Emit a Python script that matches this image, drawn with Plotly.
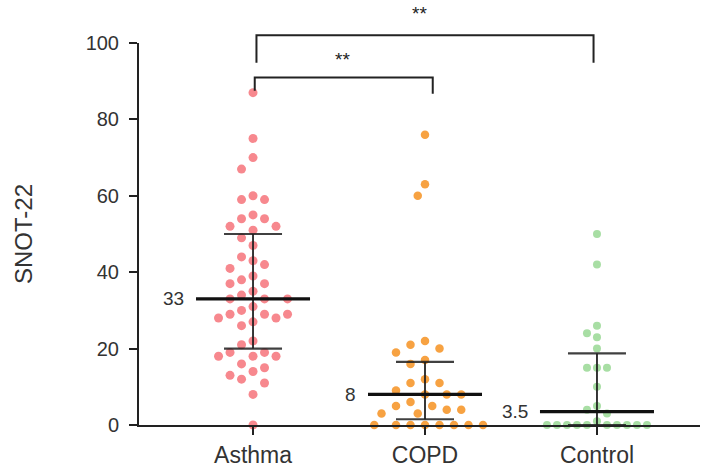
import numpy as np
import plotly.graph_objects as go

# ---------------- data ----------------
categories = ["Asthma", "COPD", "Control"]
asthma = [87, 75, 70, 67, 60, 59, 59, 55, 54, 54, 52, 52, 51, 49, 47, 44, 43, 42,
          41, 39, 38, 37, 37, 35, 34, 33, 33, 33, 31, 30, 29, 29, 29, 28, 28, 27,
          26, 22, 21, 19, 19, 18, 18, 18, 16, 15, 14, 13, 12, 11, 8, 0]
copd = [76, 63, 60, 22, 21, 20, 19, 17, 16, 12, 11, 11, 9, 8, 8, 8, 6, 5, 5, 4, 4,
        3, 3, 0, 0, 0, 0, 0, 0, 0, 0]
control = [50, 42, 26, 24, 23, 20, 15, 15, 15, 10, 5, 4, 3, 1,
           0, 0, 0, 0, 0, 0, 0, 0, 0, 0]
medians = [33, 8, 3.5]
q1 = [20, 1.5, 0]
q3 = [50, 16.5, 18.75]
median_labels = ["33", "8", "3.5"]
y_ticks = [0, 20, 40, 60, 80, 100]
sig_labels = ["**", "**"]

# ---------------- layout constants ----------------
W, H = 702, 470
ML, MR, MT, MB = 139, 2, 43, 43
XR = [-0.663, 2.599]
YR = [0, 100]
XPX = (W - ML - MR) / (XR[1] - XR[0])   # pixels per category unit
YPX = (H - MT - MB) / (YR[1] - YR[0])   # pixels per value unit

colors = ["rgb(247,136,142)", "rgb(247,162,66)", "rgb(168,222,164)"]
msize = [9, 8.5, 8]
swarm_step = [11.5, 7.25, 5.0]   # horizontal grid step in px
swarm_dist = [12.0, 13.0, 9.6]   # minimum centre distance in px
FONT = "Liberation Sans, Arial, sans-serif"
INK = "#222222"


def swarm(vals, step_px, min_d):
    vals = np.asarray(vals, dtype=float)
    order = np.argsort(-vals, kind="stable")
    placed = []
    off = np.zeros(len(vals))
    cands = [0] + [s * j for j in range(1, 60) for s in (-1, 1)]
    for i in order:
        y = vals[i] * YPX
        for c in cands:
            x = c * step_px
            if all((x - px) ** 2 + (y - py) ** 2 >= min_d ** 2 for px, py in placed):
                break
        placed.append((x, y))
        off[i] = x / XPX
    return off


groups = [asthma, copd, control]
fig = go.Figure()

for gi, vals in enumerate(groups):
    off = swarm(vals, swarm_step[gi], swarm_dist[gi])
    fig.add_trace(go.Scatter(
        x=gi + off, y=vals, mode="markers",
        marker=dict(size=msize[gi], color=colors[gi], line=dict(width=0)),
        cliponaxis=False, showlegend=False, hoverinfo="y"))

MED_HW = 57 / XPX
IQR_HW = 29 / XPX
for gi in range(3):
    fig.add_trace(go.Scatter(x=[gi, gi], y=[q1[gi], q3[gi]], mode="lines",
                             line=dict(color=INK, width=1.8), showlegend=False,
                             hoverinfo="skip"))
    for q in (q1[gi], q3[gi]):
        fig.add_trace(go.Scatter(x=[gi - IQR_HW, gi + IQR_HW], y=[q, q], mode="lines",
                                 line=dict(color="rgba(30,30,30,0.85)", width=2.2),
                                 showlegend=False, hoverinfo="skip"))
    fig.add_trace(go.Scatter(x=[gi - MED_HW, gi + MED_HW], y=[medians[gi]] * 2,
                             mode="lines", line=dict(color="#111111", width=3.2),
                             showlegend=False, hoverinfo="skip"))
    fig.add_annotation(x=gi - MED_HW - 10 / XPX, y=medians[gi], text=median_labels[gi],
                       showarrow=False, xanchor="right", yanchor="middle",
                       font=dict(family=FONT, size=19, color="#333333"))


def px_x(cat):
    return (cat - XR[0]) / (XR[1] - XR[0])


def px_y(v):
    return (v - YR[0]) / (YR[1] - YR[0])


brackets = [
    dict(x0=0.01, x1=1.045, top=91.0, l_leg=87.5, r_leg=86.7, star_x=0.523, star_y=95.8),
    dict(x0=0.02, x1=1.98, top=102.0, l_leg=94.8, r_leg=94.8, star_x=0.97, star_y=107.6),
]
for b, lab in zip(brackets, sig_labels):
    path = (f"M {px_x(b['x0'])},{px_y(b['l_leg'])} L {px_x(b['x0'])},{px_y(b['top'])} "
            f"L {px_x(b['x1'])},{px_y(b['top'])} L {px_x(b['x1'])},{px_y(b['r_leg'])}")
    fig.add_shape(type="path", path=path, xref="paper", yref="paper",
                  line=dict(color=INK, width=2))
    fig.add_annotation(x=px_x(b["star_x"]), y=px_y(b["star_y"]), xref="paper", yref="paper",
                       text=lab, showarrow=False, xanchor="center", yanchor="middle",
                       font=dict(family=FONT, size=19, color=INK))

fig.add_annotation(x=(23 - ML) / (W - ML - MR), y=0.5, xref="paper", yref="paper",
                   text="SNOT-22", textangle=-90, showarrow=False,
                   xanchor="center", yanchor="middle",
                   font=dict(family=FONT, size=24, color="#333333"))

fig.update_layout(
    width=W, height=H, margin=dict(l=ML, r=MR, t=MT, b=MB),
    paper_bgcolor="white", plot_bgcolor="white",
    xaxis=dict(range=XR, tickmode="array", tickvals=[0, 1, 2], ticktext=categories,
               showgrid=False, zeroline=False, showline=True, linecolor=INK, linewidth=2,
               ticks="outside", ticklen=8, tickwidth=2, tickcolor=INK,
               tickfont=dict(family=FONT, size=23, color="#333333")),
    yaxis=dict(range=YR, tickmode="array", tickvals=y_ticks,
               showgrid=False, zeroline=False, showline=True, linecolor=INK, linewidth=2,
               ticks="outside", ticklen=8, tickwidth=2, tickcolor=INK, ticklabelstandoff=6,
               tickfont=dict(family=FONT, size=20, color="#333333")),
)

fig.write_html("out.html", config={"displayModeBar": False},
               post_script="document.body.style.margin='0px';document.body.style.overflow='hidden';")
